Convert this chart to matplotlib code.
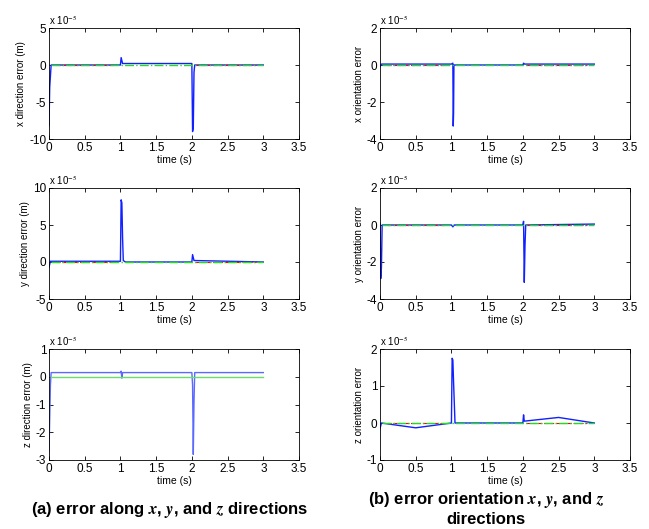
import numpy as np
import matplotlib
matplotlib.use("Agg")
import matplotlib.pyplot as plt
from matplotlib.ticker import FuncFormatter

plt.rcParams['font.family'] = ['Liberation Sans', 'DejaVu Sans']
plt.rcParams['mathtext.fontset'] = 'stix'

# values in units of 1e-5
# x direction error
xd_t = [0, 0.01, 0.03, 1.0, 1.01, 1.03, 2.0, 2.01, 2.02, 2.03, 2.04, 3.0]
xd_b = [-8.2, -3.0, 0.0, 0.0, 1.0, 0.2, 0.2, -9.0, -8.5, -1.0, 0.0, 0.0]
# x orientation error
xo_t = [0, 0.02, 1.0, 1.02, 1.025, 1.03, 1.035, 2.0, 2.01, 2.02, 3.0]
xo_b = [-0.1, 0.05, 0.05, 0.1, -3.3, -2.6, 0.0, 0.0, 0.1, 0.05, 0.05]
# y direction error
yd_t = [0, 0.02, 1.0, 1.01, 1.02, 1.03, 1.04, 1.07, 2.0, 2.01, 2.03, 3.0]
yd_b = [-0.7, 0.1, 0.1, 8.4, 8.0, 3.3, 0.2, 0.0, 0.0, 1.0, 0.2, 0.0]
# y orientation error
yo_t = [0, 0.01, 0.02, 0.03, 0.05, 1.0, 1.02, 1.04, 2.0, 2.01, 2.02, 2.03, 2.04, 3.0]
yo_b = [0.1, -2.9, -2.3, 0.0, 0.0, 0.0, -0.1, 0.0, 0.0, 0.2, -3.1, -1.1, 0.0, 0.05]
# z direction error
zd_t = [0, 0.02, 0.03, 1.0, 1.01, 1.02, 1.03, 2.0, 2.01, 2.02, 2.03, 2.04, 3.0]
zd_b = [-2.7, -0.3, 0.15, 0.15, 0.2, -0.05, 0.15, 0.15, -0.3, -2.8, -0.9, 0.15, 0.15]
# z orientation error
zo_t = [0, 0.02, 0.5, 1.0, 1.01, 1.02, 1.03, 1.05, 2.0, 2.01, 2.02, 2.5, 3.0]
zo_b = [-0.15, 0.0, -0.13, 0.0, 1.75, 1.7, 1.1, 0.0, 0.0, 0.22, 0.05, 0.15, 0.0]

# flat reference traces (green dash-dot, red dashed)
flat_t = [0.03, 3.0]
flat_v = [0.0, 0.0]
red_segs = [[0.1, 0.9], [2.05, 2.9]]

panels = [
    (xd_t, xd_b, (-10, 5), [-10, -5, 0, 5], 'x direction error (m)'),
    (xo_t, xo_b, (-4, 2), [-4, -2, 0, 2], 'x orientation error'),
    (yd_t, yd_b, (-5, 10), [-5, 0, 5, 10], 'y direction error (m)'),
    (yo_t, yo_b, (-4, 2), [-4, -2, 0, 2], 'y orientation error'),
    (zd_t, zd_b, (-3, 1), [-3, -2, -1, 0, 1], 'z direction error (m)'),
    (zo_t, zo_b, (-1, 2), [-1, 0, 1, 2], 'z orientation error'),
]

W, H = 649, 529
fig = plt.figure(figsize=(W / 100, H / 100), dpi=100)

lefts = [49, 380]
tops = [28, 188, 349]
aw, ah = 250, 111

fmt = FuncFormatter(lambda v, p: '%g' % v)

for i, (t, b, ylim, yt, lab) in enumerate(panels):
    r, c = divmod(i, 2)
    ax = fig.add_axes([lefts[c] / W, 1 - (tops[r] + ah) / H, aw / W, ah / H])
    zdir = (i == 4)
    ax.plot(t, b, color='#5a6aff' if zdir else '#1020ff', lw=1.0)
    if zdir:
        ax.plot(flat_t, flat_v, color='#66e066', lw=1.0)
    else:
        for s in red_segs:
            ax.plot(s, [0, 0], color='red', lw=0.8, ls='--')
        ax.plot(flat_t, flat_v, color='#22dd22', lw=1.0, ls='-.')
    ax.set_xlim(0, 3.5)
    ax.set_ylim(*ylim)
    ax.set_xticks(np.arange(0, 3.51, 0.5))
    ax.set_yticks(yt)
    ax.xaxis.set_major_formatter(fmt)
    ax.yaxis.set_major_formatter(fmt)
    ax.tick_params(direction='in', top=True, right=True, length=3, width=0.6,
                   labelsize=8.5, pad=2)
    for sp in ax.spines.values():
        sp.set_linewidth(0.6)
    ax.set_xlabel('time (s)', fontsize=7.5, labelpad=1)
    ax.set_ylabel(lab, fontsize=7, labelpad=2)
    ax.text(0.0, 1.01, r'x 10$^{-5}$', transform=ax.transAxes, fontsize=7,
            ha='left', va='bottom')

fig.text(170 / W, 1 - 510 / H,
         r'(a) error along $\boldsymbol{x}$, $\boldsymbol{y}$, and $\boldsymbol{z}$ directions',
         ha='center', va='center', fontsize=12, fontweight='bold')
fig.text(486 / W, 1 - 500 / H,
         r'(b) error orientation $\boldsymbol{x}$, $\boldsymbol{y}$, and $\boldsymbol{z}$',
         ha='center', va='center', fontsize=12, fontweight='bold')
fig.text(486 / W, 1 - 520 / H, 'directions',
         ha='center', va='center', fontsize=12, fontweight='bold')

fig.savefig('out.png', dpi=100)
